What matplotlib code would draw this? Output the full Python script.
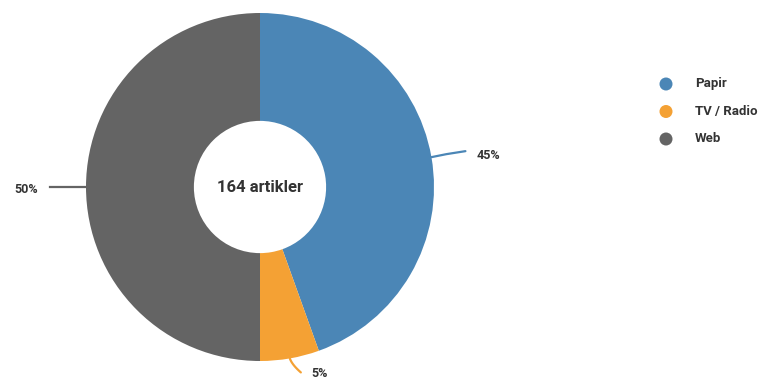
import numpy as np
import matplotlib
matplotlib.use("Agg")
import matplotlib.pyplot as plt
from matplotlib.patches import Circle

categories = ["Papir", "TV / Radio", "Web"]
values = [73, 9, 82]
pct_labels = ["45%", "5%", "50%"]
colors = ["#4b86b6", "#f4a134", "#646464"]
center_text = "164 artikler"

W, H = 765, 381
fig = plt.figure(figsize=(W / 100, H / 100), dpi=100)
ax = fig.add_axes([0, 0, 1, 1])

cx, cy = 260, H - 187
R = 174
wedges, _ = ax.pie(values, colors=colors, startangle=90, counterclock=False,
                   center=(cx, cy), radius=R,
                   wedgeprops=dict(width=R * 0.62, linewidth=0))
ax.set_xlim(0, W)
ax.set_ylim(0, H)
ax.set_aspect("equal")
ax.axis("off")

font = "Roboto"
ax.text(cx, cy, center_text, ha="center", va="center", fontsize=12,
        fontweight="bold", color="#333333", family=font)

# leader lines and labels
total = sum(values)
cum = 0
for i, v in enumerate(values):
    mid = 90 - (cum + v / 2) / total * 360
    cum += v
    a = np.deg2rad(mid)
    x0, y0 = cx + R * np.cos(a), cy + R * np.sin(a)
    col = colors[i]
    if i == 0:
        xs = [x0, x0 + 15, x0 + 34]
        ys = [y0, y0 + 3, y0 + 6]
        ax.plot(xs, ys, color=col, lw=1.6, solid_capstyle="round")
        ax.text(x0 + 45, y0 + 2, pct_labels[i], ha="left", va="center",
                fontsize=9, fontweight="bold", color="#333333", family=font)
    elif i == 1:
        t = np.linspace(0, 1, 20)
        xs = x0 + 3 * np.sin(t * np.pi / 2) + 8 * t ** 2
        ys = y0 - 14 * t
        ax.plot(xs, ys, color=col, lw=1.6, solid_capstyle="round")
        ax.text(x0 + 22, y0 - 15.5, pct_labels[i], ha="left", va="center",
                fontsize=9, fontweight="bold", color="#333333", family=font)
    else:
        ax.plot([x0, x0 - 36], [y0, y0], color=col, lw=1.6)
        ax.text(x0 - 48, y0 - 2, pct_labels[i], ha="right", va="center",
                fontsize=9, fontweight="bold", color="#333333", family=font)

# legend
lx = 666
for i, (c, name) in enumerate(zip(colors, categories)):
    ly = H - (84 + i * 27.5)
    ax.add_patch(Circle((lx, ly), 6.5, color=c, lw=0))
    ax.text(lx + 29, ly, name, ha="left", va="center", fontsize=9.5,
            fontweight="bold", color="#333333", family=font)

fig.savefig("out.png", dpi=100, facecolor="white")
